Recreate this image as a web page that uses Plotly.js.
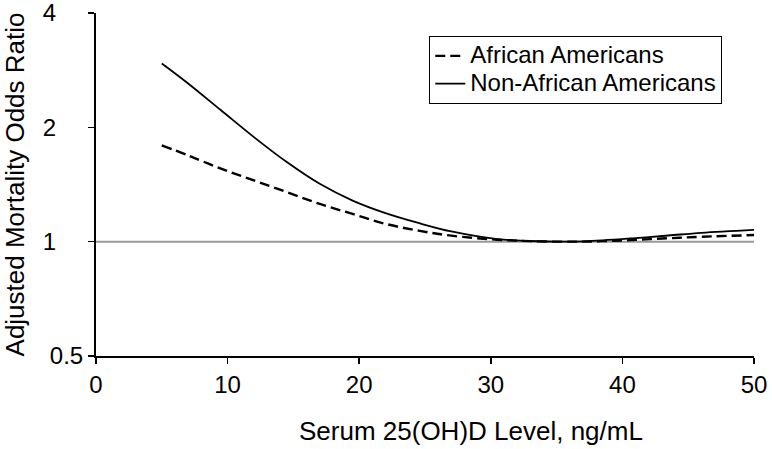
<!DOCTYPE html>
<html>
<head>
<meta charset="utf-8">
<script src="https://cdn.plot.ly/plotly-3.0.1.min.js"></script>
<style>html,body{margin:0;padding:0;background:#fff}#chart{width:772px;height:449px}</style>
</head>
<body>
<div id="chart"></div>
<script>
const serumLevels = [5, 7, 9.5, 12, 14.5, 17, 19.5, 22, 24.5, 27, 30.5, 33, 36, 38.5, 41, 43.5, 46, 50];
const africanAmericans = [1.793, 1.687, 1.556, 1.449, 1.35, 1.257, 1.183, 1.114, 1.069, 1.037, 1.012, 1.003, 1.0, 1.003, 1.011, 1.021, 1.030, 1.041];
const nonAfricanAmericans = [2.946, 2.61, 2.218, 1.885, 1.62, 1.42, 1.283, 1.189, 1.12, 1.064, 1.016, 1.004, 1.0, 1.008, 1.022, 1.038, 1.055, 1.074];
const yTickVals = [0.5, 1, 2, 4];
const yTickTextWide = ['0.5', '', '', ''];
const yTickValsNarrow = [1, 2, 4];
const yTickTextNarrow = ['1', '2', '4'];
const xTickVals = [0, 10, 20, 30, 40, 50];
const xTitle = 'Serum 25(OH)D Level, ng/mL';
const yTitle = 'Adjusted Mortality Odds Ratio';

const fam = 'Liberation Sans, Arial, Helvetica, sans-serif';
const tickFont = {family: fam, color: '#000', size: 24};
const titleFont = {family: fam, color: '#000', size: 26};
const yRange = [Math.log10(0.5), Math.log10(4)];

const traces = [
  {x: serumLevels, y: africanAmericans, name: '<span style="font-size:24px">African Americans</span>',
   mode: 'lines', type: 'scatter', yaxis: 'y2',
   line: {color: '#000', width: 2.4, dash: '10px,5px', shape: 'spline', smoothing: 1}},
  {x: serumLevels, y: nonAfricanAmericans, name: '<span style="font-size:24px">Non-African Americans</span>',
   mode: 'lines', type: 'scatter', yaxis: 'y2',
   line: {color: '#000', width: 1.8, shape: 'spline', smoothing: 1}}
];

const layout = {
  width: 772, height: 449,
  margin: {l: 96, r: 18, t: 13, b: 93},
  paper_bgcolor: '#fff', plot_bgcolor: '#fff',
  font: tickFont,
  showlegend: true,
  legend: {x: 0.5065, y: 0.933, xanchor: 'left', yanchor: 'top', bordercolor: '#000', borderwidth: 1,
           bgcolor: '#fff', font: {family: fam, size: 19, color: '#000'}, itemwidth: 30,
           tracegroupgap: 0},
  xaxis: {range: [0, 50], tickvals: xTickVals, showgrid: false, zeroline: false, showline: true,
          linecolor: '#000', linewidth: 2, ticks: 'outside', ticklen: 6, tickwidth: 1.5, tickcolor: '#000',
          tickfont: tickFont, ticklabeloverflow: 'allow'},
  yaxis: {type: 'log', range: yRange, tickvals: yTickVals, ticktext: yTickTextWide,
          showgrid: false, zeroline: false, showline: true, linecolor: '#000', linewidth: 2,
          ticks: 'outside', ticklen: 6, tickwidth: 1.5, tickcolor: '#000', tickfont: tickFont,
          ticklabeloverflow: 'allow',
          title: {text: yTitle, font: titleFont, standoff: 28}},
  yaxis2: {type: 'log', range: yRange, overlaying: 'y', side: 'left', anchor: 'x',
           tickvals: yTickValsNarrow, ticktext: yTickTextNarrow, showgrid: false, zeroline: false,
           showline: false, ticks: 'outside', ticklen: 34, tickcolor: 'rgba(0,0,0,0)', tickfont: tickFont,
           ticklabeloverflow: 'allow'},
  annotations: [{text: xTitle, xref: 'paper', yref: 'paper', x: 0.57, y: -0.218, xanchor: 'center',
                 yanchor: 'middle', showarrow: false, font: titleFont}],
  shapes: [{type: 'line', xref: 'paper', x0: 0, x1: 1, yref: 'y', y0: 1, y1: 1,
            line: {color: '#999', width: 2}, layer: 'below'}]
};

Plotly.newPlot('chart', traces, layout, {displayModeBar: false, staticPlot: true});
</script>
</body>
</html>
